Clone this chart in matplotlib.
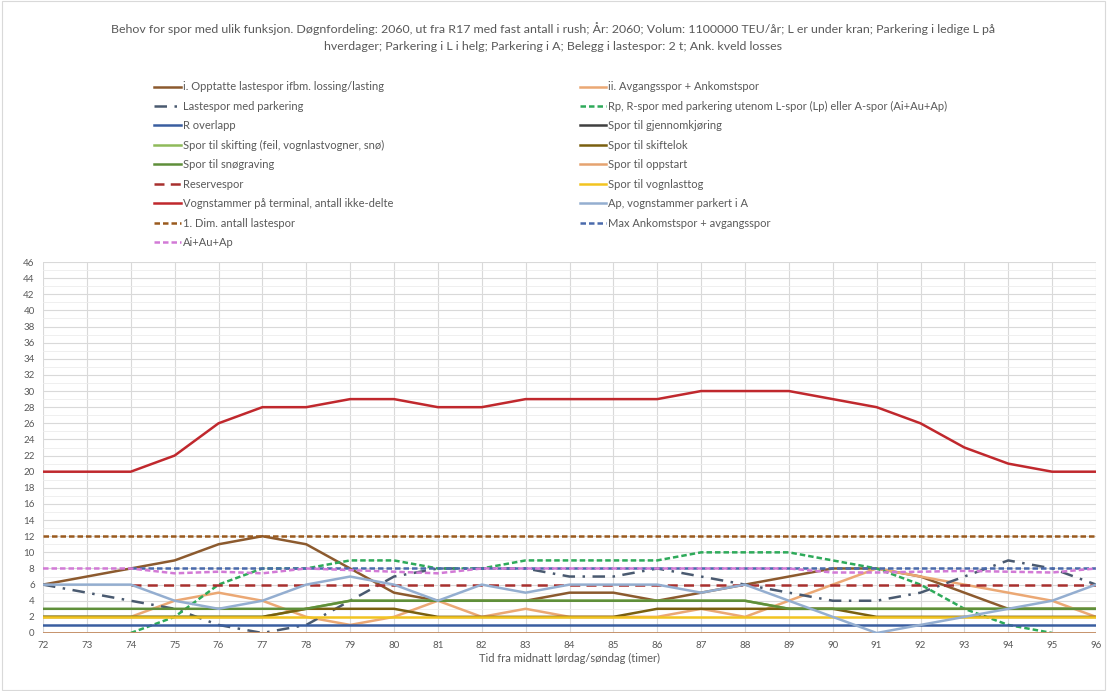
import numpy as np
import matplotlib
matplotlib.use("Agg")
import matplotlib.pyplot as plt
from matplotlib.patches import Rectangle

nan = np.nan

# hours after midnight saturday/sunday
hours = list(range(72, 97))

opptatte_lastespor = [6, 7, 8, 9, 11, 12, 11, 8, 5, 4, 4, 4, 5, 5, 4, 5, 6, 7, 8, 8, 7, 5, 3, 3, 3]
avgang_ankomst = [2, 2, 2, 4, 5, 4, 2, 1, 2, 4, 2, 3, 2, 2, 2, 3, 2, 4, 6, 8, 7, 6, 5, 4, 2]
lastespor_parkering = [6, 5, 4, 3, 1, 0, 1, 4, 7, 8, 8, 8, 7, 7, 8, 7, 6, 5, 4, 4, 5, 7, 9, 8, 6]
rp_spor = [nan, nan, 0, 2, 6, 8, 8, 9, 9, 8, 8, 9, 9, 9, 9, 10, 10, 10, 9, 8, 6, 3, 1, 0, nan]
r_overlapp = [1] * 25
gjennomkjoring = [0] * 25
skifting = [2, 2, 2, 2, 2, 2, 3, 4, 4, 4, 4, 4, 4, 4, 4, 4, 4, 3, 3, 3, 3, 3, 3, 3, 3]
skiftelok = [2, 2, 2, 2, 2, 2, 3, 3, 3, 2, 2, 2, 2, 2, 3, 3, 3, 3, 3, 2, 2, 2, 2, 2, 2]
snograving = [3, 3, 3, 3, 3, 3, 3, 4, 4, 4, 4, 4, 4, 4, 4, 4, 4, 3, 3, 3, 3, 3, 3, 3, 3]
oppstart = [0] * 25
reservespor = [nan, nan] + [6] * 23
vognlasttog = [2] * 25
vognstammer = [20, 20, 20, 22, 26, 28, 28, 29, 29, 28, 28, 29, 29, 29, 29, 30, 30, 30, 29, 28, 26, 23, 21, 20, 20]
ap_parkert = [6, 6, 6, 4, 3, 4, 6, 7, 6, 4, 6, 5, 6, 6, 6, 5, 6, 4, 2, 0, 1, 2, 3, 4, 6]
dim_lastespor = [12] * 25
max_ank_avg = [nan, nan] + [8] * 23
ai_au_ap = [8, 8, 8, 7.4, 7.6, 7.4, 8, 7.8, 7.6, 7.4, 8, 8, 8, 8, 8, 8, 8, 8, 7.5, 7.5, 7.6, 7.7, 7.6, 7.5, 8]

title = ("Behov for spor med ulik funksjon. Døgnfordeling: 2060, ut fra R17 med fast antall i rush; År: 2060; "
         "Volum: 1100000 TEU/år; L er under kran; Parkering i ledige L på\n"
         "hverdager; Parkering i L i helg; Parkering i A; Belegg i lastespor: 2 t; Ank. kveld losses")

dash_long = (4, 2.5)
dash_short = (2.2, 1.2)

# (label, values, colour, dashes); dashes None means solid
series = [
    ("i. Opptatte lastespor ifbm. lossing/lasting", opptatte_lastespor, "#8c5a2e", None),
    ("ii. Avgangsspor + Ankomstspor", avgang_ankomst, "#eba874", None),
    ("Lastespor med parkering", lastespor_parkering, "#4a5a70", (5, 3, 1, 3)),
    ("Rp, R-spor med parkering utenom L-spor (Lp) eller A-spor (Ai+Au+Ap)", rp_spor, "#2eaa5a", dash_short),
    ("R overlapp", r_overlapp, "#3a5ea0", None),
    ("Spor til gjennomkjøring", gjennomkjoring, "#404040", None),
    ("Spor til skifting (feil, vognlastvogner, snø)", skifting, "#8fba5a", None),
    ("Spor til skiftelok", skiftelok, "#7a6010", None),
    ("Spor til snøgraving", snograving, "#5f8f3a", None),
    ("Spor til oppstart", oppstart, "#e5a370", None),
    ("Reservespor", reservespor, "#a8302e", dash_long),
    ("Spor til vognlasttog", vognlasttog, "#f2c420", None),
    ("Vognstammer på terminal, antall ikke-delte", vognstammer, "#c0282d", None),
    ("Ap, vognstammer parkert i A", ap_parkert, "#94aed0", None),
    ("1. Dim. antall lastespor", dim_lastespor, "#9a5a1e", dash_short),
    ("Max Ankomstspor + avgangsspor", max_ank_avg, "#4a6aac", dash_short),
    ("Ai+Au+Ap", ai_au_ap, "#d27ad6", dash_short),
]

plt.rcParams["font.family"] = ["Lato", "DejaVu Sans"]

fig = plt.figure(figsize=(11.07, 6.91), dpi=100)
ax = fig.add_axes([43 / 1107, 1 - 633 / 691, 1053 / 1107, 371 / 691])

handles = {}
for label, vals, color, dashes in series:
    if dashes is None:
        line, = ax.plot(hours, vals, color=color, lw=1.8, solid_joinstyle="round")
    else:
        line, = ax.plot(hours, vals, color=color, lw=1.8, dashes=dashes)
    handles[label] = line

ax.set_xlim(72, 96)
ax.set_ylim(0, 46)
ax.set_xticks(hours)
ax.set_yticks(range(0, 47, 2))
ax.set_yticks(range(1, 46, 2), minor=True)
ax.grid(True, which="major", color="#d9d9d9", lw=0.8)
ax.grid(True, which="minor", axis="y", color="#ececec", lw=0.6)
ax.set_axisbelow(True)
for s in ax.spines.values():
    s.set_visible(False)
ax.tick_params(which="both", length=0, labelsize=7, labelcolor="#595959", pad=6)
ax.set_xlabel("Tid fra midnatt lørdag/søndag (timer)", fontsize=8, color="#595959", labelpad=2)

fig.text(0.5, 1 - 37 / 691, title, ha="center", va="center", fontsize=8.9,
         color="#595959", linespacing=1.75)

# legend: left column first, then right column
order = [s[0] for s in series]
left = order[0::2]
right = order[1::2]
labels = left + right
leg = fig.legend([handles[l] for l in labels], labels, ncol=2,
                 loc="upper left", bbox_to_anchor=(150 / 1107, 1 - 77 / 691),
                 frameon=False, fontsize=8, labelcolor="#595959",
                 handlelength=2.35, handletextpad=0.2, columnspacing=16.8,
                 labelspacing=0.76, borderaxespad=0)

fig.patches.append(Rectangle((0.002, 0.002), 0.996, 0.996, transform=fig.transFigure,
                             fill=False, edgecolor="#d9d9d9", lw=0.8))

fig.savefig("out.png", dpi=100)
